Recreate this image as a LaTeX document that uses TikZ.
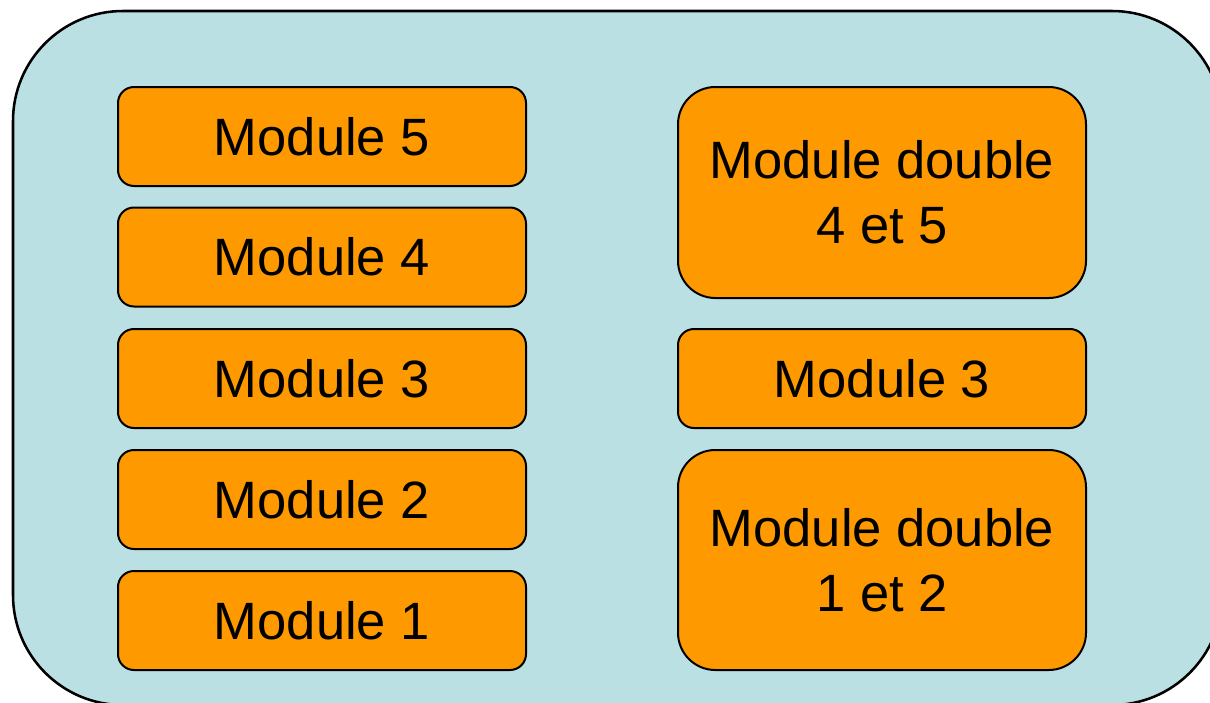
\documentclass[tikz,border=0pt]{standalone}
\usepackage{fontspec}
\setmainfont{Liberation Sans}
\definecolor{bgblue}{HTML}{BBE0E3}
\definecolor{modorange}{HTML}{FF9900}
\begin{document}
\begin{tikzpicture}[x=0.75pt,y=-0.75pt,
  frame/.style={draw=black, line width=1.9pt, fill=bgblue, rounded corners=82.5pt,
    minimum width=906.75pt, minimum height=520.5pt, inner sep=0pt},
  modbox/.style={draw=black, line width=1.5pt, fill=modorange, rounded corners=12pt,
    minimum width=306pt, minimum height=74.25pt, inner sep=0pt, align=center,
    font=\fontsize{39.4pt}{48.75pt}\selectfont},
  dblbox/.style={modbox, rounded corners=28pt}]
\useasboundingbox (0,0) rectangle (1210,703);
\node[frame] (outer) at (617.5,358) {};
\node[modbox] (m5) at (322,136.5) {Module 5};
\node[modbox] (m4) at (322,257) {Module 4};
\node[modbox] (m3) at (322,378.5) {Module 3};
\node[modbox] (m2) at (322,499.5) {Module 2};
\node[modbox] (m1) at (322,620.5) {Module 1};
\node[dblbox, minimum height=158.25pt] (d45) at (882,192.5) {Module double\\4 et 5};
\node[modbox] (r3) at (882,378.5) {Module 3};
\node[dblbox, minimum height=165pt] (d12) at (882,560) {Module double\\1 et 2};
\end{tikzpicture}
\end{document}
